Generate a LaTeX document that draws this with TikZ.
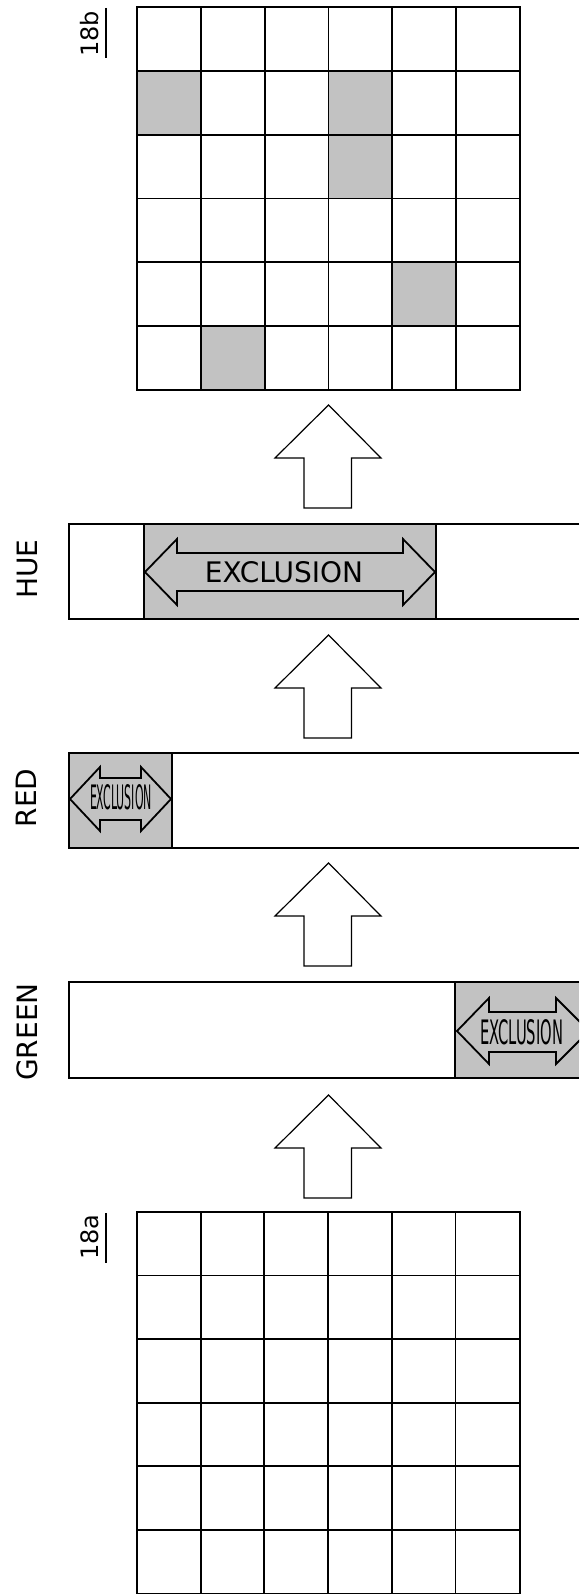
\documentclass[tikz,border=0pt]{standalone}
\usepackage{fontspec}
\setmainfont{DejaVu Sans}
\begin{document}
\begin{tikzpicture}[x=1pt,y=-1pt,
  gridline/.style={line width=1.7pt},
  barline/.style={line width=1.4pt},
  shade/.style={fill=black!24},
  blockarr/.style={draw,line width=1.2pt,fill=white,line join=miter},
  xarr/.style={draw,line width=1.8pt,line join=miter},
  lbl/.style={font=\fontsize{28}{30}\selectfont, rotate=90, anchor=base, inner sep=0pt},
  reflbl/.style={font=\fontsize{24}{26}\selectfont, rotate=90, anchor=base, inner sep=0pt},
  xtext/.style={inner sep=0pt}]
\useasboundingbox (0,0) rectangle (579,1595);
\fill[white] (0,0) rectangle (579,1595);

% ---------- grid 18b (top) ----------
\foreach \r/\c in {2/1,2/4,3/4,5/5,6/2}
  \fill[shade] ({137+(\c-1)*63.83},{7+(\r-1)*63.83}) rectangle ++(63.83,63.83);
\foreach \i in {1,...,5} {
  \draw[gridline] ({137+\i*63.83},7) -- ({137+\i*63.83},390);
  \draw[gridline] (137,{7+\i*63.83}) -- (520,{7+\i*63.83});
}
\draw[gridline] (137,7) rectangle (520,390);
\node[reflbl] (l18b) at (98.5,34) {18b};
\draw[line width=1.3pt] (106,8) -- (106,58);

% ---------- grid 18a (bottom) ----------
\foreach \i in {1,...,5} {
  \draw[gridline] ({137+\i*63.67},1212) -- ({137+\i*63.67},1593.5);
  \draw[gridline] (137,{1212+\i*63.58}) -- (520,{1212+\i*63.58});
}
\draw[gridline] (137,1212) rectangle (520,1593.5);
\node[reflbl] (l18a) at (98.5,1237) {18a};
\draw[line width=1.3pt] (106,1213) -- (106,1263);

% ---------- block arrows ----------
\foreach \t in {405,635,863,1095}
  \draw[blockarr] (328.5,\t) -- (381,{\t+53}) -- (351.5,{\t+53}) -- (351.5,{\t+103})
     -- (304,{\t+103}) -- (304,{\t+53}) -- (275,{\t+53}) -- cycle;

% ---------- HUE bar ----------
\fill[shade] (144,524) rectangle (436,619);
\draw[barline] (579,524) -- (69,524) -- (69,619) -- (579,619);
\draw[line width=1.1pt] (144,524) -- (144,619) (436,524) -- (436,619);
\draw[xarr] (145,572) -- (177,539) -- (177,553) -- (403,553) -- (403,539) -- (435,572)
   -- (403,605) -- (403,591) -- (177,591) -- (177,605) -- cycle;
\node[xtext] (xhue) at (284,572) {\resizebox{158pt}{21pt}{EXCLUSION}};
\node[lbl] (lhue) at (37,569) {HUE};

% ---------- RED bar ----------
\fill[shade] (69,753) rectangle (172,848);
\draw[barline] (579,753) -- (69,753) -- (69,848) -- (579,848);
\draw[line width=1.1pt] (172,753) -- (172,848);
\draw[xarr] (70,799) -- (100,767) -- (100,778) -- (141,778) -- (141,767) -- (171,799)
   -- (141,831) -- (141,820) -- (100,820) -- (100,831) -- cycle;
\node[xtext] (xred) at (121,797) {\resizebox{62pt}{25pt}{EXCLUSION}};
\node[lbl] (lred) at (36,798) {RED};

% ---------- GREEN bar ----------
\begin{scope}
\clip (0,0) rectangle (579,1595);
\fill[shade] (455,982) rectangle (579,1078);
\draw[barline] (579,982) -- (69,982) -- (69,1078) -- (579,1078);
\draw[line width=1.1pt] (455,982) -- (455,1078);
\draw[xarr] (457,1031) -- (489,998) -- (489,1012) -- (556,1012) -- (556,998) -- (589,1031)
   -- (556,1064) -- (556,1052) -- (489,1052) -- (489,1064) -- cycle;
\end{scope}
\node[xtext] (xgreen) at (521.5,1032) {\resizebox{83pt}{25pt}{EXCLUSION}};
\node[lbl] (lgreen) at (37,1032) {GREEN};
\end{tikzpicture}
\end{document}
